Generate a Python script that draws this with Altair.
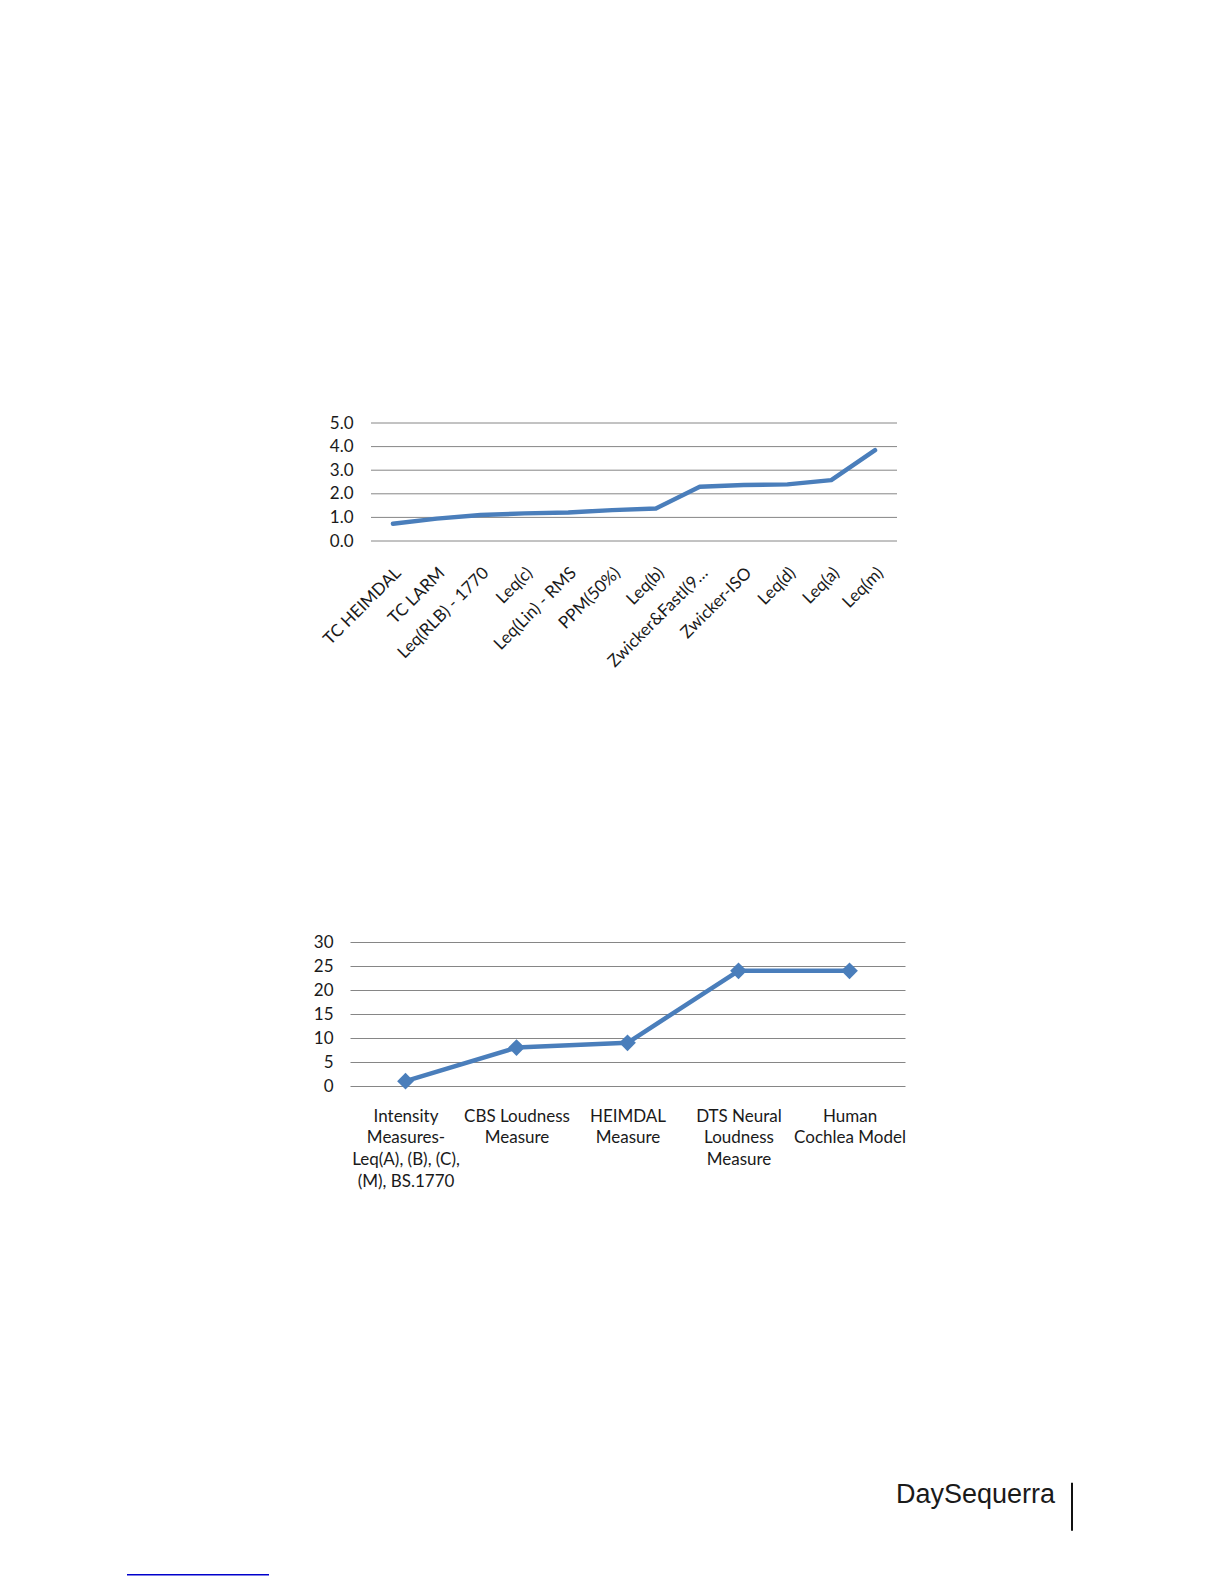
import altair as alt
import pandas as pd

# ---------------- data ----------------
top_methods = ["TC HEIMDAL", "TC LARM", "Leq(RLB) - 1770", "Leq(c)", "Leq(Lin) - RMS",
               "PPM(50%)", "Leq(b)", "Zwicker&FastI(9…", "Zwicker-ISO", "Leq(d)",
               "Leq(a)", "Leq(m)"]
top_values = [0.73, 0.95, 1.10, 1.17, 1.21, 1.31, 1.38, 2.30, 2.37, 2.40, 2.58, 3.85]
top_ticks = [0, 1, 2, 3, 4, 5]

bottom_methods = ["Intensity|Measures-|Leq(A), (B), (C),|(M), BS.1770",
                  "CBS Loudness|Measure",
                  "HEIMDAL|Measure",
                  "DTS Neural|Loudness|Measure",
                  "Human|Cochlea Model"]
bottom_values = [1, 8, 9, 24, 24]
bottom_ticks = [0, 5, 10, 15, 20, 25, 30]

logo_text = "DaySequerra"

# ---------------- style ----------------
BLUE = "#4A7EBB"
GRID = "#868686"
FONT = "Lato"
TXT = "#1a1a1a"

one = pd.DataFrame({"k": [0]})

# ---------------- top chart ----------------
top_df = pd.DataFrame({"method": top_methods, "value": top_values})
ty = alt.Scale(domain=[0, 5], nice=False, zero=True)
tx = alt.Scale(type="point", range=[21, 547], padding=0.5)

top_y_axis = alt.Axis(title=None, values=top_ticks, format=".1f", offset=-21,
                      grid=False, domain=False, ticks=False, labelPadding=18,
                      labelFontSize=17)

grid_top = alt.Chart(pd.DataFrame({"value": top_ticks})).mark_rule(
    color=GRID, strokeWidth=1
).encode(
    y=alt.Y("value:Q", scale=ty, axis=top_y_axis),
    x=alt.value(21), x2=alt.value(547),
)

line_top = alt.Chart(top_df).mark_line(
    color=BLUE, strokeWidth=4.4, strokeCap="round", strokeJoin="round"
).encode(
    x=alt.X("method:N", sort=top_methods, scale=tx,
            axis=alt.Axis(title=None, labelAngle=-45, labelAlign="right",
                          labelBaseline="middle", labelPadding=29, labelOffset=5,
                          domain=False, ticks=False, labelFontSize=17,
                          labelOverlap=False, labelLimit=300)),
    y=alt.Y("value:Q", scale=ty, axis=top_y_axis),
)

anchor = alt.Chart(one).mark_rule(strokeOpacity=0, strokeWidth=0.01).encode(
    x=alt.value(-342), x2=alt.value(-342), y=alt.value(-415), y2=alt.value(-415)
)

top = alt.layer(grid_top, line_top, anchor).properties(width=547, height=118)

# ---------------- bottom chart ----------------
bot_df = pd.DataFrame({"method": bottom_methods, "value": bottom_values})
bx = alt.Scale(type="point", padding=0.5)
by = alt.Scale(domain=[0, 30], nice=False)

base = alt.Chart(bot_df).encode(
    x=alt.X("method:N", sort=bottom_methods, scale=bx,
            axis=alt.Axis(title=None, labelExpr="split(datum.value, '|')",
                          labelLineHeight=21.7, labelPadding=22, labelAngle=0,
                          domain=False, ticks=False, labelFontSize=17,
                          labelOverlap=False, labelLimit=300)),
    y=alt.Y("value:Q", scale=by,
            axis=alt.Axis(title=None, values=bottom_ticks, grid=True, gridColor=GRID,
                          gridWidth=1, domain=False, ticks=False, labelPadding=17,
                          labelFontSize=17)),
)
line_b = base.mark_line(color=BLUE, strokeWidth=4.5, strokeJoin="round")
pts_b = base.mark_point(shape="diamond", filled=True, size=280, color=BLUE, opacity=1)

logo = alt.Chart(one).mark_text(
    text=logo_text, font="Liberation Sans", fontSize=27, align="left",
    baseline="alphabetic", color=TXT
).encode(x=alt.value(546), y=alt.value(560.7))

vline = alt.Chart(one).mark_rule(color="#111111", strokeWidth=2).encode(
    x=alt.value(722), x2=alt.value(722), y=alt.value(540.7), y2=alt.value(588.7)
)

bline = alt.Chart(one).mark_rule(color="#0000cc", strokeWidth=1.5).encode(
    x=alt.value(-223), x2=alt.value(-81), y=alt.value(632.7), y2=alt.value(632.7)
)

bottom = alt.layer(line_b, pts_b, logo, vline, bline).properties(width=555, height=144)

chart = alt.vconcat(top, bottom, spacing=401, bounds="flush").properties(
    padding=0
).configure_view(stroke=None).configure_axis(labelFont=FONT, labelColor=TXT)

chart.save("out.html", embed_options={"renderer": "svg", "actions": False})
